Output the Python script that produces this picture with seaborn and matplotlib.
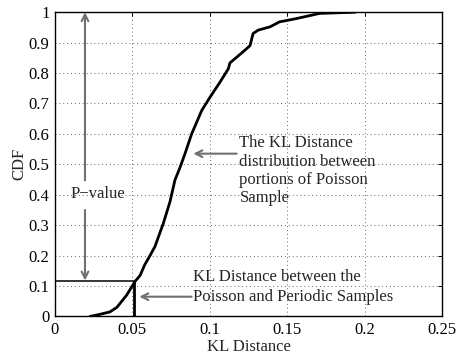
import numpy as np
import pandas as pd
import matplotlib
matplotlib.use("Agg")
import matplotlib.pyplot as plt
import seaborn as sns

# CDF of KL distance
kl_dist = [0.0226, 0.029, 0.0355, 0.040, 0.0463, 0.0517, 0.055, 0.058, 0.0614,
           0.0646, 0.070, 0.0743, 0.0775, 0.0808, 0.084, 0.0883, 0.0948, 0.1001,
           0.1066, 0.112, 0.113, 0.1227, 0.126, 0.128, 0.1313, 0.139, 0.145,
           0.156, 0.171, 0.194]
cdf = [0.0, 0.007, 0.015, 0.03, 0.07, 0.115, 0.135, 0.17, 0.2,
       0.23, 0.306, 0.377, 0.448, 0.49, 0.535, 0.6, 0.677, 0.72,
       0.77, 0.814, 0.833, 0.875, 0.89, 0.93, 0.941, 0.952, 0.968,
       0.979, 0.996, 1.0]

observed_kl = 0.0512
p_value = 0.118

x_ticks = [0, 0.05, 0.1, 0.15, 0.2, 0.25]
x_tick_labels = ["0", "0.05", "0.1", "0.15", "0.2", "0.25"]
y_ticks = [0, 0.1, 0.2, 0.3, 0.4, 0.5, 0.6, 0.7, 0.8, 0.9, 1.0]
y_tick_labels = ["0", "0.1", "0.2", "0.3", "0.4", "0.5", "0.6", "0.7", "0.8", "0.9", "1"]

dist_text = ["The KL Distance", "distribution between", "portions of Poisson", "Sample"]
obs_text = ["KL Distance between the", "Poisson and Periodic Samples"]

sns.set_style("white")
plt.rcParams["font.family"] = ["Liberation Serif", "DejaVu Serif"]

FS = 12

fig = plt.figure(figsize=(4.58, 3.58), dpi=100)
ax = fig.add_axes([0.120, 0.116, 0.845, 0.850])

df = pd.DataFrame({"KL": kl_dist, "CDF": cdf})
sns.lineplot(data=df, x="KL", y="CDF", ax=ax, color="black", linewidth=2.0,
             sort=False, estimator=None)

# observed value lines
ax.plot([observed_kl, observed_kl], [0, p_value], color="black", lw=2.0, solid_capstyle="butt")
ax.plot([0, observed_kl], [p_value, p_value], color="black", lw=1.1)

ax.set_xlim(0, 0.25)
ax.set_ylim(0, 1)
ax.set_xticks(x_ticks)
ax.set_xticklabels(x_tick_labels)
ax.set_yticks(y_ticks)
ax.set_yticklabels(y_tick_labels)
ax.grid(True, linestyle=(0, (1, 3)), color="#666666", linewidth=0.7)
ax.tick_params(direction="in", length=3, width=0.7, labelsize=FS, top=True, right=True,
               colors="black", pad=4)
for s in ax.spines.values():
    s.set_color("black")
    s.set_linewidth(1.0)
    s.set_visible(True)

ax.set_xlabel("KL Distance", fontsize=FS, labelpad=1)
ax.set_ylabel("CDF", fontsize=FS, labelpad=1)

arrow_color = "#707070"
aprops = dict(arrowstyle="->", color=arrow_color, lw=1.5, mutation_scale=12, shrinkA=0, shrinkB=0)

# P-value arrows
ax.annotate("", xy=(0.0194, 1.0), xytext=(0.0194, 0.447), arrowprops=aprops)
ax.annotate("", xy=(0.0194, p_value), xytext=(0.0194, 0.35), arrowprops=aprops)
ax.text(0.0275, 0.402, "P\u2212value", fontsize=FS, ha="center", va="center")

# distribution annotation
ax.annotate("", xy=(0.0894, 0.535), xytext=(0.1174, 0.535), arrowprops=aprops)
for line, yy in zip(dist_text, [0.57, 0.508, 0.447, 0.389]):
    ax.text(0.1192, yy, line, fontsize=FS, ha="left", va="center")

# observed annotation
ax.annotate("", xy=(0.0545, 0.065), xytext=(0.0883, 0.065), arrowprops=aprops)
for line, yy in zip(obs_text, [0.131, 0.065]):
    ax.text(0.089, yy, line, fontsize=FS, ha="left", va="center")

fig.savefig("out.png", dpi=100)
